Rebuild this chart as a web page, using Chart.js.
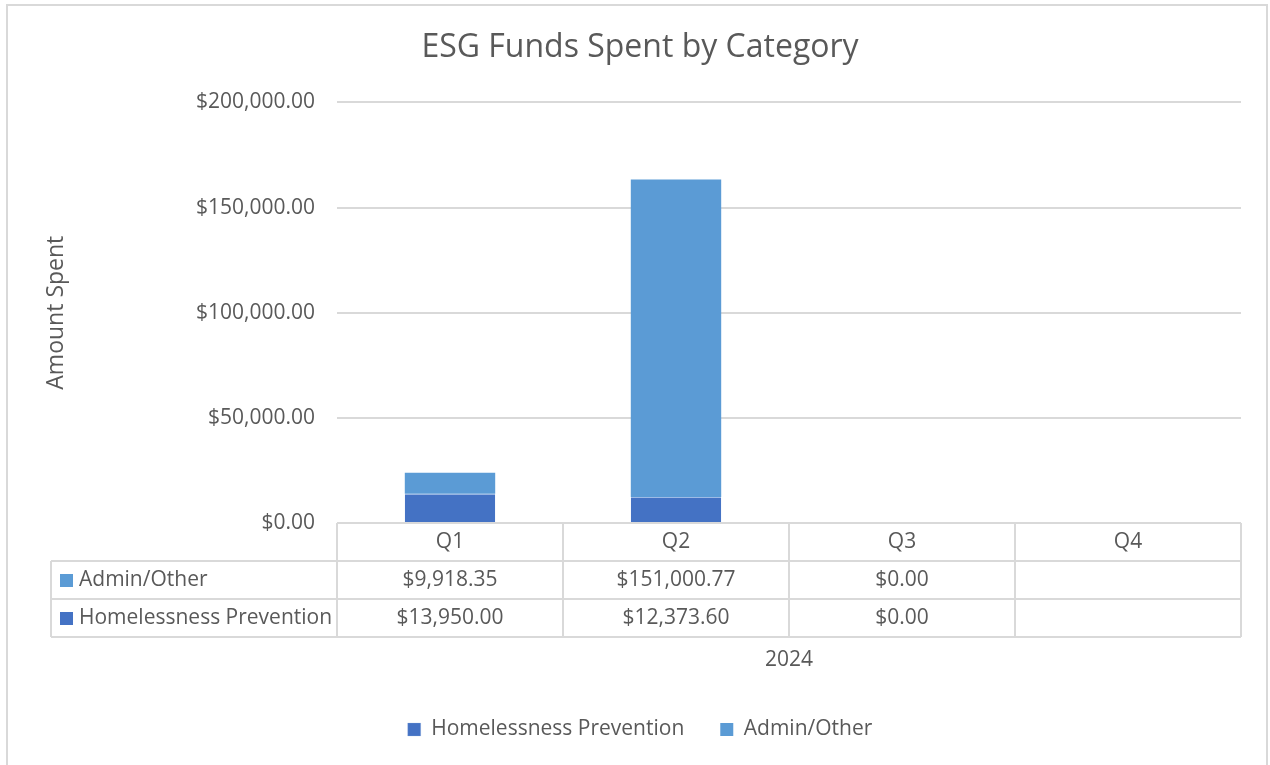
<!DOCTYPE html>
<html lang="en">
<head>
    <meta charset="UTF-8">
    <title>ESG Funds Spent by Category</title>
    <style>
        html, body { margin: 0; padding: 0; background: #fff; }
        .frame {
            position: absolute; left: 6px; top: 4px; width: 1262px; height: 770px;
            border: 2px solid #d9d9d9; box-sizing: border-box;
        }
        .wrap { position: absolute; left: 0; top: 0; width: 1270px; height: 765px; }
    </style>
</head>
<body>
<div class="frame"></div>
<div class="wrap"><canvas id="myChart" width="1270" height="765"></canvas></div>

<script src="https://cdn.jsdelivr.net/npm/chart.js"></script>
<script>
    // donnees
    const quarters = ['Q1', 'Q2', 'Q3', 'Q4'];
    const homelessness = [13950.00, 12373.60, 0, null];
    const admin = [9918.35, 151000.77, 0, null];
    const yTicks = [0, 50000, 100000, 150000, 200000];
    const groupLabel = '2024';

    const FONT = "'Open Sans', sans-serif";
    const GREY = '#595959';
    const LINE = '#d9d9d9';
    const DARK = '#4472c4';
    const LIGHT = '#5b9bd5';

    function money(v) {
        return '$' + v.toLocaleString('en-US', { minimumFractionDigits: 2, maximumFractionDigits: 2 });
    }

    // table de donnees sous l'axe (comme dans Excel)
    const dataTable = {
        id: 'dataTable',
        afterDraw(chart) {
            const ctx = chart.ctx;
            const x = chart.scales.x;
            const area = chart.chartArea;
            const rowH = 38;
            const leftX = 51;
            const top = area.bottom;
            const step = x.getPixelForValue(1) - x.getPixelForValue(0);
            const rows = [
                { label: 'Admin/Other', color: LIGHT, values: admin },
                { label: 'Homelessness Prevention', color: DARK, values: homelessness }
            ];

            ctx.save();
            ctx.strokeStyle = LINE;
            ctx.lineWidth = 2;
            ctx.beginPath();
            // lignes horizontales
            ctx.moveTo(area.left, top); ctx.lineTo(area.right, top);
            for (let r = 1; r <= rows.length + 1; r++) {
                ctx.moveTo(leftX, top + r * rowH); ctx.lineTo(area.right, top + r * rowH);
            }
            // lignes verticales
            ctx.moveTo(leftX, top + rowH); ctx.lineTo(leftX, top + (rows.length + 1) * rowH);
            for (let i = 0; i <= quarters.length; i++) {
                const px = x.getPixelForValue(0) - step / 2 + i * step;
                ctx.moveTo(px, top); ctx.lineTo(px, top + (rows.length + 1) * rowH);
            }
            ctx.stroke();

            ctx.fillStyle = GREY;
            ctx.font = '21px ' + FONT;
            ctx.textAlign = 'center';
            ctx.textBaseline = 'middle';
            quarters.forEach((q, i) => {
                ctx.fillText(q, x.getPixelForValue(i), top + rowH / 2);
            });
            rows.forEach((row, r) => {
                const cy = top + (r + 1) * rowH + rowH / 2;
                row.values.forEach((v, i) => {
                    if (v === null) return;
                    ctx.fillStyle = GREY;
                    ctx.textAlign = 'center';
                    ctx.fillText(money(v), x.getPixelForValue(i), cy);
                });
                ctx.fillStyle = row.color;
                ctx.fillRect(leftX + 9, cy - 6, 13, 13);
                ctx.fillStyle = GREY;
                ctx.textAlign = 'left';
                ctx.fillText(row.label, leftX + 28, cy);
            });
            ctx.textAlign = 'center';
            ctx.fillText(groupLabel, (area.left + area.right) / 2, top + 3 * rowH + 23);
            ctx.restore();
        }
    };

    const ctx = document.getElementById('myChart');
    const myChart = new Chart(ctx, {
        type: 'bar',
        data: {
            labels: quarters,
            datasets: [{
                label: 'Homelessness Prevention',
                data: homelessness,
                backgroundColor: DARK,
                borderColor: '#9dbbe6',
                borderWidth: { top: 1, left: 0, right: 0, bottom: 0 },
                borderSkipped: false
            }, {
                label: 'Admin/Other',
                data: admin,
                backgroundColor: LIGHT,
                borderWidth: 0
            }]
        },
        options: {
            responsive: false,
            animation: false,
            datasets: { bar: { categoryPercentage: 1, barPercentage: 0.4 } },
            layout: { padding: { left: 39, right: 29, top: 29, bottom: 15 } },
            plugins: {
                title: {
                    display: true,
                    text: 'ESG Funds Spent by Category',
                    color: GREY,
                    font: { family: FONT, size: 32, weight: 'normal' },
                    padding: { top: 0, bottom: 35 }
                },
                legend: {
                    position: 'bottom',
                    labels: {
                        color: GREY,
                        font: { family: FONT, size: 21 },
                        boxWidth: 13, boxHeight: 13,
                        padding: 36
                    }
                },
                tooltip: { enabled: false }
            },
            scales: {
                x: {
                    stacked: true,
                    grid: { display: false },
                    border: { display: false },
                    ticks: { display: false },
                    afterFit(s) { s.height = 160; }
                },
                y: {
                    stacked: true,
                    min: 0, max: 200000,
                    afterBuildTicks(s) { s.ticks = yTicks.map(v => ({ value: v })); },
                    afterFit(s) { s.width = 337 - 39; },
                    grid: { color: LINE, lineWidth: 2, drawTicks: false },
                    border: { display: false },
                    ticks: {
                        color: GREY, padding: 22,
                        font: { family: FONT, size: 21 },
                        callback: v => money(v)
                    },
                    title: {
                        display: true, text: 'Amount Spent', color: GREY,
                        font: { family: FONT, size: 23 }
                    }
                }
            }
        },
        plugins: [dataTable]
    });
</script>
</body>
</html>
